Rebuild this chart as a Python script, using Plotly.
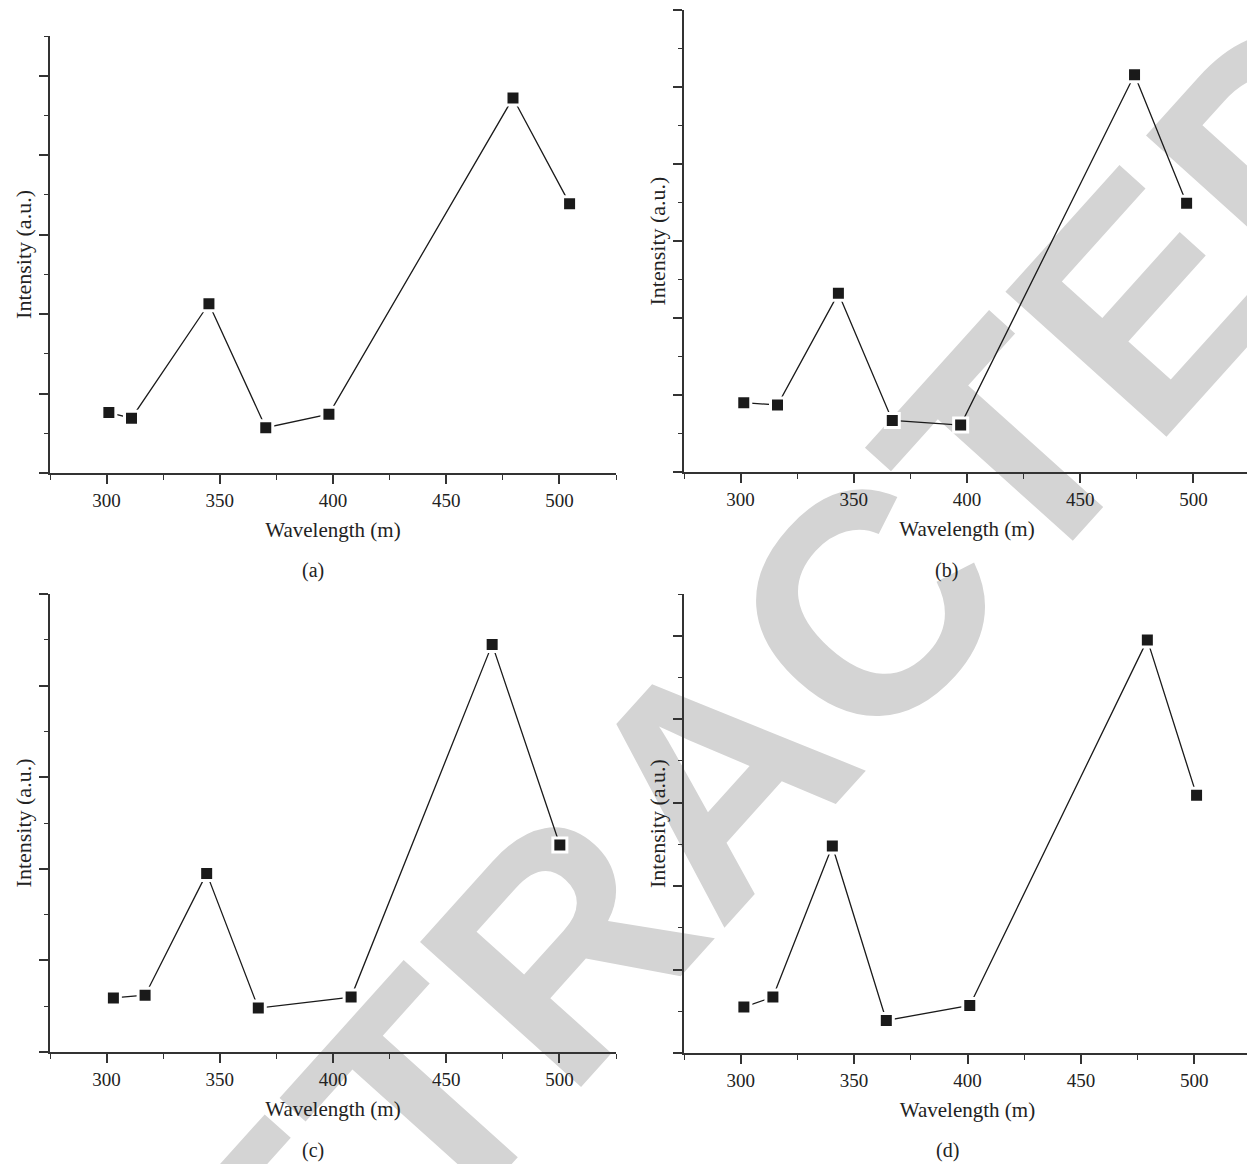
import plotly.graph_objects as go

# ---- data ----
wl_a = [301, 311, 345.2, 370.3, 398.2, 479.5, 504.5]
int_a = [0.76, 0.69, 2.13, 0.57, 0.74, 4.72, 3.39]

wl_b = [301.4, 316.3, 343.2, 367, 397.2, 474, 497]
int_b = [0.90, 0.87, 2.32, 0.67, 0.61, 5.16, 3.49]

wl_c = [303, 317, 344.2, 367, 408, 470.3, 500.2]
int_c = [0.59, 0.62, 1.95, 0.48, 0.60, 4.45, 2.26]

wl_d = [301.4, 314.2, 340.4, 364.2, 401, 479.3, 501]
int_d = [0.55, 0.67, 2.48, 0.39, 0.57, 4.95, 3.09]

x_ticks = [300, 350, 400, 450, 500]
panel_labels = ["(a)", "(b)", "(c)", "(d)"]
x_title = "Wavelength (m)"
y_title = "Intensity (a.u.)"
watermark = "RETRACTED"

# page body has an 8px margin; figure fills the rest of the 1255x1164 window
OFF = 8
W, H = 1255 - OFF, 1164 - OFF

def px_x(p):
    return (p - OFF) / W

def px_y(p):
    return 1 - (p - OFF) / H

# panel geometry in window pixels: (x0, x1, ytop, ybottom, ymax)
panels = [
    (50, 616, 36, 473, 5.5),
    (684, 1250, 10, 472, 6.0),
    (50, 616, 594, 1052, 5.0),
    (684, 1251, 594, 1053, 5.5),
]
series = [(wl_a, int_a), (wl_b, int_b), (wl_c, int_c), (wl_d, int_d)]

TXT = "#222222"
AX = "#333333"
SERIF = "Liberation Serif"

fig = go.Figure()
layout = dict(
    width=W, height=H, margin=dict(l=0, r=0, t=0, b=0),
    paper_bgcolor="white", plot_bgcolor="rgba(0,0,0,0)",
    showlegend=False, font=dict(family=SERIF, color=TXT, size=19),
)
annotations = []
for i, ((x0, x1, yt, yb, ymax), (xs, ys)) in enumerate(zip(panels, series)):
    n = "" if i == 0 else str(i + 1)
    fig.add_trace(go.Scatter(
        x=xs, y=ys, mode="lines+markers",
        xaxis="x" + n, yaxis="y" + n,
        line=dict(color="#1a1a1a", width=1.3),
        marker=dict(symbol="square", size=14, color="#1a1a1a",
                    line=dict(color="white", width=3)),
        cliponaxis=False,
    ))
    layout["xaxis" + n] = dict(
        domain=[px_x(x0), px_x(x1)], anchor="y" + n, range=[275, 525],
        tickvals=x_ticks, ticks="outside", ticklen=9, tickwidth=1.5,
        tickcolor=AX, showline=True, linecolor=AX, linewidth=1.5,
        showgrid=False, zeroline=False,
        tickfont=dict(family=SERIF, size=19, color=TXT),
        minor=dict(ticks="outside", ticklen=5, tickwidth=1.2, tickcolor=AX,
                   dtick=25, tick0=0, showgrid=False),
        title=dict(text=x_title, font=dict(family=SERIF, size=21, color=TXT),
                   standoff=13),
    )
    layout["yaxis" + n] = dict(
        domain=[px_y(yb), px_y(yt)], anchor="x" + n, range=[0, ymax],
        dtick=1, tick0=0, ticks="outside", ticklen=9, tickwidth=1.5,
        tickcolor=AX, showline=True, linecolor=AX, linewidth=1.5,
        showgrid=False, zeroline=False, showticklabels=False,
        minor=dict(ticks="outside", ticklen=4, tickwidth=1.2, tickcolor=AX,
                   dtick=0.5, tick0=0, showgrid=False),
        title=dict(text=y_title, font=dict(family=SERIF, size=22, color=TXT),
                   standoff=2),
    )
    lab_y = 570 if i < 2 else 1150
    lab_x = (x0 + x1) / 2 - 20
    annotations.append(dict(
        text=panel_labels[i], x=px_x(lab_x), y=px_y(lab_y),
        xref="paper", yref="paper", showarrow=False,
        xanchor="center", yanchor="middle",
        font=dict(family=SERIF, size=20, color=TXT),
    ))

cx, cy = px_x(692), px_y(756)
layout["shapes"] = [dict(
    type="rect", xref="paper", yref="paper",
    x0=cx - 0.0005, x1=cx + 0.0005, y0=cy - 0.0005, y1=cy + 0.0005,
    line=dict(width=0), fillcolor="rgba(0,0,0,0)", layer="below",
    label=dict(text=watermark, textangle=-48, textposition="middle center",
               font=dict(family="Liberation Sans", size=315, color="#d4d4d4",
                         weight="bold")),
)]
layout["annotations"] = annotations
fig.update_layout(**layout)
fig.write_html("out.html")
